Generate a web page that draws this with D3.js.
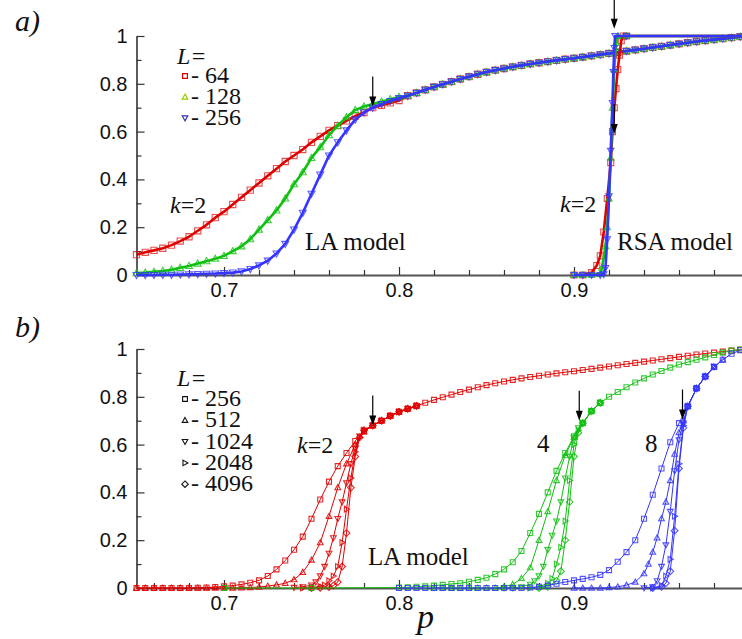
<!DOCTYPE html>
<html><head><meta charset="utf-8">
<script src="https://cdn.jsdelivr.net/npm/d3@7/dist/d3.min.js"></script>
<style>body{margin:0;background:#fff}svg{display:block}</style>
</head><body>
<svg id="c" width="742" height="639"></svg>
<script>
// ---------- DATA ----------
const xTickLabels = [0.7, 0.8, 0.9, 1.0];
const yTickLabels = [0, 0.2, 0.4, 0.6, 0.8, 1];
const xMinor = [0.66,0.68,0.72,0.74,0.76,0.78,0.82,0.84,0.86,0.88,0.92,0.94,0.96,0.98];
const yMinor = [0.1,0.3,0.5,0.7,0.9];

// common p grid of the LA curves (0.65 .. 0.80)
const pHead = [0.650,0.655,0.660,0.665,0.670,0.675,0.680,0.685,0.690,0.695,0.700,0.705,0.710,0.715,0.720,0.725,0.730,0.735,0.740,0.745,0.750,0.755,0.760,0.765,0.770,0.775,0.780,0.785,0.790,0.795,0.800];
// LA k=2, top panel
const la64  = [0.085,0.095,0.103,0.112,0.125,0.142,0.160,0.185,0.210,0.240,0.265,0.295,0.325,0.355,0.385,0.415,0.445,0.475,0.500,0.525,0.555,0.580,0.605,0.625,0.645,0.665,0.680,0.700,0.710,0.720,0.730];
const la128 = [0.008,0.010,0.013,0.017,0.022,0.030,0.038,0.048,0.058,0.068,0.080,0.100,0.120,0.150,0.190,0.230,0.270,0.320,0.380,0.430,0.490,0.535,0.585,0.625,0.660,0.690,0.705,0.715,0.725,0.735,0.745];
const la256 = [0.000,0.000,0.000,0.001,0.001,0.002,0.003,0.004,0.005,0.006,0.008,0.010,0.015,0.025,0.040,0.060,0.090,0.130,0.190,0.260,0.340,0.420,0.500,0.555,0.605,0.650,0.680,0.700,0.715,0.728,0.740];
// shared tail of LA k=2 (0.805 .. 1.0)
const pTail = [0.805,0.810,0.815,0.820,0.825,0.830,0.835,0.840,0.845,0.850,0.855,0.860,0.865,0.870,0.875,0.880,0.885,0.890,0.895,0.900,0.905,0.910,0.915,0.920,0.925,0.930,0.935,0.940,0.945,0.950,0.955,0.960,0.965,0.970,0.975,0.980,0.985,0.990,0.995,1.000];
const laTail = [0.750,0.762,0.775,0.787,0.798,0.809,0.820,0.830,0.840,0.849,0.857,0.864,0.871,0.877,0.883,0.888,0.893,0.898,0.903,0.907,0.912,0.917,0.922,0.927,0.932,0.937,0.942,0.947,0.952,0.957,0.962,0.967,0.972,0.977,0.981,0.985,0.989,0.993,0.997,1.000];

// RSA k=2, top panel  [p, value]
const rsa64  = [[0.900,0],[0.905,0],[0.910,0.01],[0.913,0.04],[0.915,0.08],[0.917,0.18],[0.919,0.32],[0.921,0.47],[0.922,0.60],[0.923,0.70],[0.924,0.78],[0.925,0.86],[0.926,0.92],[0.927,0.98],[0.928,1.0],[0.930,1.0],[1.0,1.0]];
const rsa128 = [[0.900,0],[0.905,0],[0.910,0],[0.915,0.005],[0.916,0.03],[0.918,0.12],[0.919,0.20],[0.920,0.32],[0.921,0.49],[0.922,0.70],[0.923,0.86],[0.924,0.97],[0.925,1.0],[0.930,1.0],[1.0,1.0]];
const rsa256 = [[0.900,0],[0.905,0],[0.910,0],[0.915,0],[0.917,0.003],[0.918,0.03],[0.919,0.15],[0.920,0.33],[0.921,0.52],[0.922,0.72],[0.9225,0.85],[0.923,0.95],[0.9235,1.0],[0.930,1.0],[1.0,1.0]];

// bottom panel, k=2
const k2L256Head = [0,0,0,0,0,0,0,0.001,0.002,0.004,0.007,0.010,0.015,0.022,0.032,0.050,0.078,0.115,0.160,0.215,0.290,0.370,0.445,0.510,0.565,0.615,0.655,0.680,0.700,0.720,0.737];
const k2L512  = [[0.65,0],[0.655,0],[0.66,0],[0.665,0],[0.67,0],[0.675,0],[0.68,0],[0.685,0],[0.69,0],[0.695,0],[0.70,0],[0.705,0],[0.71,0.001],[0.715,0.002],[0.72,0.004],[0.725,0.008],[0.73,0.013],[0.735,0.02],[0.74,0.035],[0.745,0.066],[0.75,0.117],[0.755,0.19],[0.76,0.30],[0.765,0.42],[0.77,0.52],[0.775,0.60],[0.78,0.655],[0.785,0.68],[0.79,0.70],[0.795,0.72],[0.80,0.737],[0.805,0.75],[0.81,0.762]];
const k2L1024 = [[0.74,0.002],[0.745,0.005],[0.75,0.012],[0.7525,0.025],[0.755,0.05],[0.7575,0.09],[0.76,0.145],[0.7625,0.21],[0.765,0.29],[0.7675,0.36],[0.77,0.44],[0.7725,0.52],[0.775,0.585],[0.7775,0.635],[0.78,0.66],[0.785,0.68],[0.79,0.70],[0.795,0.72],[0.80,0.737],[0.805,0.75],[0.81,0.762]];
const k2L2048 = [[0.745,0],[0.75,0.002],[0.755,0.006],[0.7575,0.012],[0.76,0.03],[0.7625,0.05],[0.765,0.09],[0.7675,0.19],[0.77,0.33],[0.7725,0.46],[0.775,0.57],[0.7775,0.63],[0.78,0.66],[0.785,0.68],[0.79,0.70],[0.795,0.72],[0.80,0.737],[0.805,0.75],[0.81,0.762]];
const k2L4096 = [[0.75,0],[0.755,0.001],[0.76,0.004],[0.7625,0.01],[0.765,0.025],[0.7675,0.09],[0.77,0.23],[0.7725,0.42],[0.775,0.55],[0.7775,0.63],[0.78,0.66],[0.785,0.68],[0.79,0.70],[0.795,0.72],[0.80,0.737],[0.805,0.75],[0.81,0.762]];

// bottom panel, k=4
const k4L256  = [[0.70,0],[0.75,0],[0.80,0.002],[0.805,0.003],[0.81,0.005],[0.815,0.007],[0.82,0.01],[0.825,0.013],[0.83,0.017],[0.835,0.02],[0.84,0.026],[0.845,0.034],[0.85,0.043],[0.855,0.058],[0.86,0.078],[0.865,0.108],[0.87,0.155],[0.875,0.23],[0.88,0.31],[0.885,0.40],[0.89,0.49],[0.895,0.565],[0.90,0.635],[0.905,0.69],[0.91,0.74],[0.915,0.775],[0.92,0.80],[0.925,0.82],[0.93,0.84],[0.935,0.86],[0.94,0.877],[0.945,0.893],[0.95,0.908],[0.955,0.922],[0.96,0.935],[0.965,0.945],[0.97,0.955],[0.975,0.965],[0.98,0.975],[0.985,0.985],[0.99,0.993],[0.995,0.998],[1.0,1.0]];
const k4L512  = [[0.82,0],[0.825,0],[0.83,0],[0.835,0],[0.84,0],[0.845,0],[0.85,0],[0.855,0],[0.86,0.005],[0.865,0.015],[0.87,0.04],[0.875,0.085],[0.88,0.20],[0.885,0.32],[0.89,0.45],[0.895,0.556],[0.90,0.63],[0.905,0.69],[0.91,0.74],[0.915,0.775]];
const k4L1024 = [[0.86,0],[0.865,0],[0.87,0.005],[0.875,0.015],[0.8775,0.03],[0.88,0.05],[0.8825,0.09],[0.885,0.16],[0.8875,0.22],[0.89,0.28],[0.8925,0.36],[0.895,0.46],[0.8975,0.55],[0.90,0.63],[0.9025,0.67],[0.905,0.69],[0.91,0.74],[0.915,0.775]];
const k4L2048 = [[0.875,0],[0.88,0.005],[0.885,0.02],[0.8875,0.04],[0.89,0.10],[0.8925,0.17],[0.895,0.28],[0.8975,0.45],[0.90,0.60],[0.9025,0.66],[0.905,0.69],[0.91,0.74],[0.915,0.775]];
const k4L4096 = [[0.88,0],[0.885,0.005],[0.89,0.03],[0.8925,0.07],[0.895,0.20],[0.8975,0.36],[0.90,0.55],[0.9025,0.65],[0.905,0.69],[0.91,0.74],[0.915,0.775]];

// bottom panel, k=8
const k8L256  = [[0.80,0],[0.805,0],[0.81,0],[0.815,0],[0.82,0],[0.825,0],[0.83,0],[0.835,0],[0.84,0],[0.845,0],[0.85,0],[0.855,0],[0.86,0],[0.865,0],[0.87,0],[0.875,0.002],[0.88,0.005],[0.885,0.01],[0.89,0.018],[0.895,0.025],[0.90,0.032],[0.905,0.038],[0.91,0.045],[0.915,0.055],[0.92,0.075],[0.925,0.11],[0.93,0.15],[0.935,0.20],[0.94,0.29],[0.945,0.39],[0.95,0.50],[0.955,0.61],[0.96,0.69],[0.965,0.76],[0.97,0.835],[0.975,0.885],[0.98,0.925],[0.985,0.955],[0.99,0.98],[0.995,0.995],[1.0,1.0]];
const k8L512  = [[0.90,0],[0.905,0],[0.91,0],[0.915,0],[0.92,0.002],[0.925,0.005],[0.93,0.012],[0.935,0.025],[0.94,0.06],[0.9425,0.10],[0.945,0.15],[0.9475,0.21],[0.95,0.29],[0.9525,0.36],[0.955,0.45],[0.9575,0.56],[0.96,0.65],[0.9625,0.70],[0.965,0.76],[0.97,0.835],[0.975,0.885],[0.98,0.925],[0.985,0.955]];
const k8L1024 = [[0.94,0],[0.945,0.005],[0.9475,0.03],[0.95,0.09],[0.9525,0.18],[0.955,0.32],[0.9575,0.49],[0.96,0.62],[0.9625,0.69],[0.965,0.76],[0.97,0.835],[0.975,0.885],[0.98,0.925]];
const k8L2048 = [[0.945,0],[0.95,0.01],[0.9525,0.05],[0.955,0.12],[0.9575,0.30],[0.96,0.52],[0.9625,0.68],[0.965,0.76],[0.97,0.835],[0.975,0.885],[0.98,0.925]];
const k8L4096 = [[0.945,0],[0.95,0.005],[0.9525,0.02],[0.955,0.07],[0.9575,0.24],[0.96,0.50],[0.9625,0.67],[0.965,0.76],[0.97,0.835],[0.975,0.885]];

// arrows [p, value at tip]
const arrowsTop = [[0.785,0.705],[0.923,1.03],[0.923,0.59]];
const arrowsBot = [[0.785,0.68],[0.903,0.70],[0.962,0.705]];

const legendTopL = ["64","128","256"];
const legendBotL = ["256","512","1024","2048","4096"];

// ---------- DRAW ----------
const zip = (ps, vs) => ps.map((p,i)=>[p, vs[i]]);
const svg = d3.select("#c");
const x = d3.scaleLinear().domain([0.65,1.0]).range([136.5,749]);
const yTop = d3.scaleLinear().domain([0,1]).range([275,36]);
const yBot = d3.scaleLinear().domain([0,1]).range([588,349]);

const RED="#e00000", GREEN="#10c010", BLUE="#3535ff";
const SERIF='"Liberation Serif"';
const SANS='"Liberation Sans"';

function marker(type, s){
  switch(type){
    case "square": return `M${-s},${-s}h${2*s}v${2*s}h${-2*s}z`;
    case "up": return `M0,${-s*1.2}L${s*1.15},${s*0.85}L${-s*1.15},${s*0.85}z`;
    case "down": return `M0,${s*1.2}L${s*1.15},${-s*0.85}L${-s*1.15},${-s*0.85}z`;
    case "right": return `M${s*1.2},0L${-s*0.85},${s*1.15}L${-s*0.85},${-s*1.15}z`;
    case "diamond": return `M0,${-s*1.35}L${s*1.35},0L0,${s*1.35}L${-s*1.35},0z`;
  }
}

function axes(y){
  const g = svg.append("g");
  const fmt = d => d===0?"0":(d===1?"1":d3.format(".1f")(d));
  const ya = g.append("g").attr("transform",`translate(${x(0.65)},0)`)
    .call(d3.axisLeft(y).tickValues(yTickLabels).tickSize(-8).tickSizeOuter(0).tickPadding(9).tickFormat(fmt));
  g.append("g").attr("transform",`translate(${x(0.65)},0)`)
    .call(d3.axisLeft(y).tickValues(yMinor).tickSize(-5).tickSizeOuter(0).tickFormat(""))
    .select(".domain").remove();
  const xa = g.append("g").attr("transform",`translate(0,${y(0)})`)
    .call(d3.axisBottom(x).tickValues(xTickLabels).tickSize(-8).tickSizeOuter(0).tickPadding(8).tickFormat(fmt));
  g.append("g").attr("transform",`translate(0,${y(0)})`)
    .call(d3.axisBottom(x).tickValues(xMinor).tickSize(-5).tickSizeOuter(0).tickFormat(""))
    .select(".domain").remove();
  g.selectAll("text").style("font-family",SANS).attr("font-size",20).attr("fill","#111");
  g.selectAll("line").attr("stroke","#333").attr("stroke-width",1.2);
  ya.select(".domain").attr("stroke","#333").attr("stroke-width",1.6);
  xa.select(".domain").attr("stroke","#555").attr("stroke-width",2.2);
  return g;
}

function series(y, data, color, type, lw, ms, mop){
  const line = d3.line().x(d=>x(d[0])).y(d=>y(d[1]));
  const g = svg.append("g");
  g.append("path").attr("d",line(data)).attr("fill","none").attr("stroke",color).attr("stroke-width",lw).attr("stroke-linejoin","round");
  g.selectAll("path.m").data(data).join("path").attr("class","m")
    .attr("transform",d=>`translate(${x(d[0])},${y(d[1])})`)
    .attr("d",marker(type,ms)).attr("fill","none").attr("stroke",color)
    .attr("stroke-width",1.1).attr("stroke-opacity",mop);
}

function arrows(y, list){
  list.forEach(([p,v])=>{
    const xt=x(p), yt=y(v);
    svg.append("line").attr("x1",xt).attr("x2",xt).attr("y1",yt-30).attr("y2",yt-8)
      .attr("stroke","#000").attr("stroke-width",1.2);
    svg.append("path").attr("d",`M${xt-3.5},${yt-10}L${xt+3.5},${yt-10}L${xt},${yt}z`).attr("fill","#000");
  });
}

function text(xp, yp, str, size, opts={}){
  const t = svg.append("text").attr("x",xp).attr("y",yp).style("font-family",SERIF)
    .attr("font-size",size).attr("fill","#111");
  if(opts.italic) t.attr("font-style","italic");
  if(opts.anchor) t.attr("text-anchor",opts.anchor);
  t.text(str);
  return t;
}
function kLabel(xp, yp){
  const t = svg.append("text").attr("x",xp).attr("y",yp).style("font-family",SERIF).attr("font-size",24).attr("fill","#111");
  t.append("tspan").attr("font-style","italic").text("k");
  t.append("tspan").text("=2");
}

// ===== panel a =====
axes(yTop);
series(yTop, zip(pHead,la64).concat(zip(pTail,laTail)), RED, "square", 2.6, 3.1, 0.7);
series(yTop, zip(pHead,la128).concat(zip(pTail,laTail)), GREEN, "up", 2.6, 3.0, 0.8);
series(yTop, zip(pHead,la256).concat(zip(pTail,laTail)), BLUE, "down", 2.6, 3.0, 0.8);
series(yTop, rsa64, RED, "square", 2.6, 3.0, 0.7);
series(yTop, rsa128, GREEN, "up", 2.6, 2.8, 0.8);
series(yTop, rsa256, BLUE, "down", 2.6, 2.8, 0.8);
arrows(yTop, arrowsTop);

text(15, 31, "a)", 30, {italic:true});
text(177, 64, "L=", 24, {italic:true});
const topLegColors=["#e00000","#99cc00","#3333aa"], topLegTypes=["square","up","down"];
legendTopL.forEach((l,i)=>{
  const cy = 76 + i*21;
  svg.append("path").attr("transform",`translate(185,${cy})`).attr("d",marker(topLegTypes[i],2.4))
    .attr("fill","none").attr("stroke",topLegColors[i]).attr("stroke-width",1.2);
  text(191, cy+7, "- " + l, 24);
});
kLabel(170, 213);
text(305, 250, "LA model", 25);
kLabel(560, 212);
text(617, 250, "RSA model", 25);

// ===== panel b =====
axes(yBot);
const botTypes=["square","up","down","right","diamond"];
const k2 = [zip(pHead,k2L256Head).concat(zip(pTail,laTail)), k2L512, k2L1024, k2L2048, k2L4096];
const k4 = [k4L256, k4L512, k4L1024, k4L2048, k4L4096];
const k8 = [k8L256, k8L512, k8L1024, k8L2048, k8L4096];
k2.forEach((d,i)=>series(yBot, d, RED, botTypes[i], 1, 2.5, 0.85));
k4.forEach((d,i)=>series(yBot, d, GREEN, botTypes[i], 1, 2.5, 0.85));
k8.forEach((d,i)=>series(yBot, d, BLUE, botTypes[i], 1, 2.5, 0.85));
arrows(yBot, arrowsBot);

text(15, 337, "b)", 30, {italic:true});
text(177, 386, "L=", 24, {italic:true});
legendBotL.forEach((l,i)=>{
  const cy = 399 + i*21.3;
  svg.append("path").attr("transform",`translate(185,${cy})`).attr("d",marker(botTypes[i],2.4))
    .attr("fill","none").attr("stroke","#111").attr("stroke-width",1.1);
  text(191, cy+7, "- " + l, 24);
});
kLabel(297, 453);
text(537, 452, "4", 25);
text(645, 452, "8", 25);
text(368, 565, "LA model", 25);
text(417, 628, "p", 34, {italic:true});
</script>
</body></html>
